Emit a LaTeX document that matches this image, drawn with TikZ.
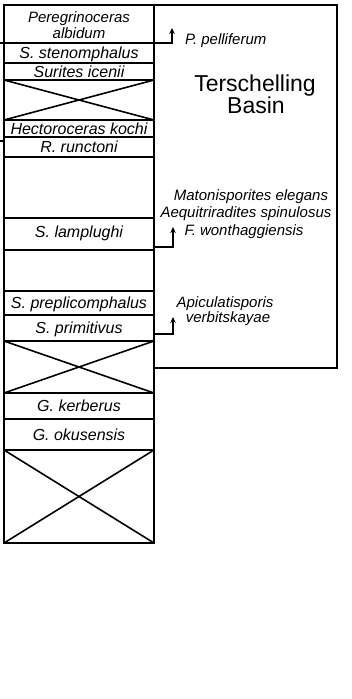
\documentclass[tikz,border=0pt]{standalone}
\usepackage{fontspec}
\setmainfont{Liberation Sans}
\usetikzlibrary{arrows.meta}
\begin{document}
\begin{tikzpicture}[x=1pt,y=-1pt,
  every node/.style={inner sep=0pt, outer sep=0pt},
  cell/.style={draw, line width=1.7pt, minimum width=150pt,
    font=\fontsize{16}{17}\selectfont\itshape, text height=11pt, text depth=0pt},
  spec/.style={font=\fontsize{15}{17}\selectfont\itshape, text height=10.5pt, text depth=0pt},
  basinbox/.style={draw, line width=1.7pt},
  conn/.style={line width=1.6pt},
  arr/.style={line width=1.5pt, -{Stealth[length=6pt,width=5.5pt]}},
  cross/.style={line width=1.6pt},
  big/.style={font=\fontsize{23}{17}\selectfont, text height=16pt, text depth=0pt}
]
\useasboundingbox (0,0) rectangle (351,699);
% basin box
\node[basinbox, minimum width=183pt, minimum height=363pt] (basin) at (245.5,186.5) {};
% column cells
\node[cell, minimum height=38pt] (r1) at (79,24) {};
\node[spec] (peregA) at (79,17) {Peregrinoceras};
\node[spec] (peregB) at (79,33) {albidum};
\node[cell, minimum height=20pt] (r2) at (79,53) {S. stenomphalus};
\node[cell, minimum height=17pt] (r3) at (79,71.5) {Surites icenii};
\node[cell, minimum height=40pt] (x1) at (79,100) {};
\node[cell, minimum height=17pt] (r4) at (79,128.5) {Hectoroceras kochi};
\node[cell, minimum height=20pt] (r5) at (79,147) {R. runctoni};
\node[cell, minimum height=61pt] (e1) at (79,187.5) {};
\node[cell, minimum height=32pt] (r6) at (79,234) {};
\node[cell, draw=none, minimum height=12pt] (lamt) at (79,232) {S. lamplughi};
\node[cell, minimum height=41pt] (e2) at (79,270.5) {};
\node[cell, minimum height=24pt] (r7) at (79,303) {S. preplicomphalus};
\node[cell, minimum height=26pt] (r8) at (79,328) {S. primitivus};
\node[cell, minimum height=52pt] (x2) at (79,367) {};
\node[cell, minimum height=26pt] (r9) at (79,406) {G. kerberus};
\node[cell, minimum height=31pt] (r10) at (79,434.5) {G. okusensis};
\node[cell, minimum height=93pt] (x3) at (79,496.5) {};
% crosses
\foreach \b in {x1,x2,x3}{
  \draw[cross] (\b.north west) -- (\b.south east);
  \draw[cross] (\b.north east) -- (\b.south west);
}
% left ticks
\draw[conn] (r1.south west) -- ++(-5,0);
\draw[conn] ([yshift=-4pt]r4.south west) -- ++(-5,0);
% arrows
\coordinate (tipP) at (172,28);
\coordinate (tipF) at (173,227);
\coordinate (tipA) at (173,317);
\draw[arr] (r1.south east) -| (tipP);
\draw[arr] ([yshift=3pt]r6.south east) -| (tipF);
\draw[arr] ([yshift=7pt]r8.south east) -| (tipA);
% species labels
\node[spec, anchor=west] (pell) at (185,39) {P. pelliferum};
\node[spec] (mato) at (251,195) {Matonisporites elegans};
\node[spec] (aequ) at (246,212) {Aequitriradites spinulosus};
\node[spec] (wont) at (244,230) {F. wonthaggiensis};
\node[spec] (apic) at (225,302) {Apiculatisporis};
\node[spec] (verb) at (228,317) {verbitskayae};
% basin name
\node[big] (tersch) at (255,83) {Terschelling};
\node[big] (basinname) at (256,105) {Basin};
\end{tikzpicture}
\end{document}
